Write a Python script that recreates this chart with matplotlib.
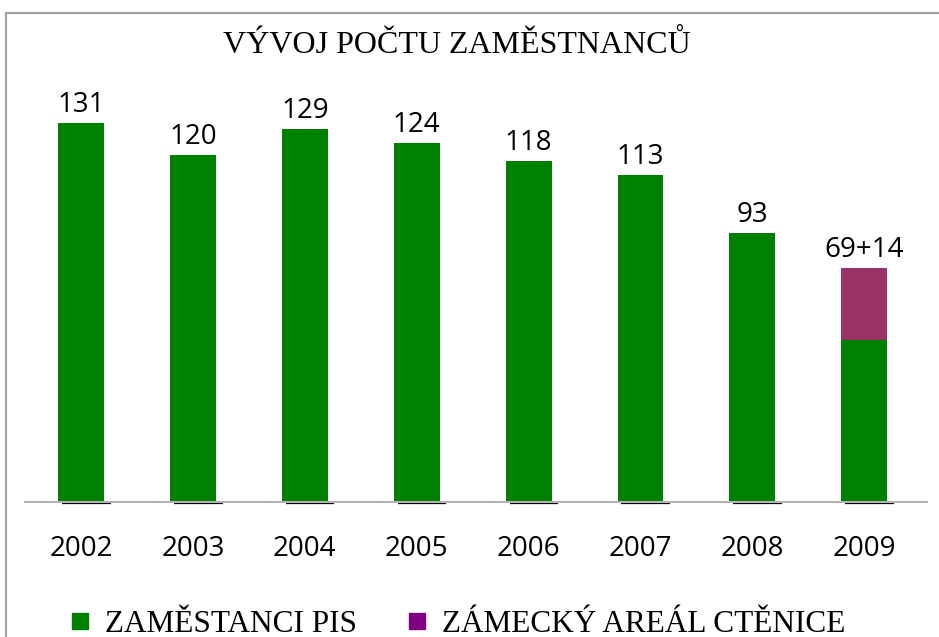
import matplotlib
matplotlib.use("Agg")
import matplotlib.pyplot as plt
from matplotlib.lines import Line2D

# data
years = ["2002", "2003", "2004", "2005", "2006", "2007", "2008", "2009"]
pis_staff = [131, 120, 129, 124, 118, 113, 93, 56]
ctenice_staff = [0, 0, 0, 0, 0, 0, 0, 25]
value_labels = ["131", "120", "129", "124", "118", "113", "93", "69+14"]
series_names = ["ZAMĚSTANCI PIS", "ZÁMECKÝ AREÁL CTĚNICE"]

green = "#008000"
bar_purple = "#993366"
legend_purple = "#800080"
num_font = "Open Sans"
serif_font = "Liberation Serif"

fig = plt.figure(figsize=(9.39, 6.37), dpi=100)
ax = fig.add_axes([25 / 939, 135 / 637, 902 / 939, 405 / 637])

x = list(range(len(years)))
w = 0.41
ax.bar(x, pis_staff, width=w, color=green, zorder=2)
ax.bar(x, ctenice_staff, width=w, bottom=pis_staff, color=bar_purple, zorder=2)

# dark shadow strip under each bar
for xi in x:
    ax.hlines(-0.45, xi - w / 2 + 0.035, xi + w / 2 + 0.06, color="black",
              lw=1.6, clip_on=False, zorder=1)

for xi, base, top, lab in zip(x, pis_staff, ctenice_staff, value_labels):
    ax.annotate(lab, (xi, base + top), xytext=(0, 7.9), textcoords="offset points",
                ha="center", va="baseline", fontsize=20, family=num_font)

ax.set_xlim(-0.5, 7.56)
ax.set_ylim(0, 140)
ax.set_xticks(x)
ax.set_xticklabels(years, fontsize=20, family=num_font)
ax.tick_params(axis="x", length=0, pad=24)
ax.set_yticks([])
for s in ["top", "left", "right"]:
    ax.spines[s].set_visible(False)
ax.spines["bottom"].set_color("#b4b4b4")
ax.spines["bottom"].set_linewidth(1.5)

fig.text(0.487, 1 - 53.3 / 637, "VÝVOJ POČTU ZAMĚSTNANCŮ", ha="center", va="baseline",
         fontsize=23, family=serif_font)

handles = [Line2D([], [], marker="s", ls="", color=green, markersize=12),
           Line2D([], [], marker="s", ls="", color=legend_purple, markersize=12)]
fig.legend(handles, series_names, loc="center", bbox_to_anchor=(0.486, 0.02),
           ncol=2, frameon=False, prop={"family": serif_font, "size": 22.5},
           handlelength=0.8, handletextpad=0.4, columnspacing=1.5,
           borderpad=0, borderaxespad=0)

# chart border (top and left edges are visible in the reference)
fig.add_artist(Line2D([6 / 939, 6 / 939], [0, 1 - 13 / 637], color="#a0a0a0", lw=1.5))
fig.add_artist(Line2D([6 / 939, 1], [1 - 13 / 637, 1 - 13 / 637], color="#a0a0a0", lw=1.5))

fig.savefig("out.png", dpi=100)
